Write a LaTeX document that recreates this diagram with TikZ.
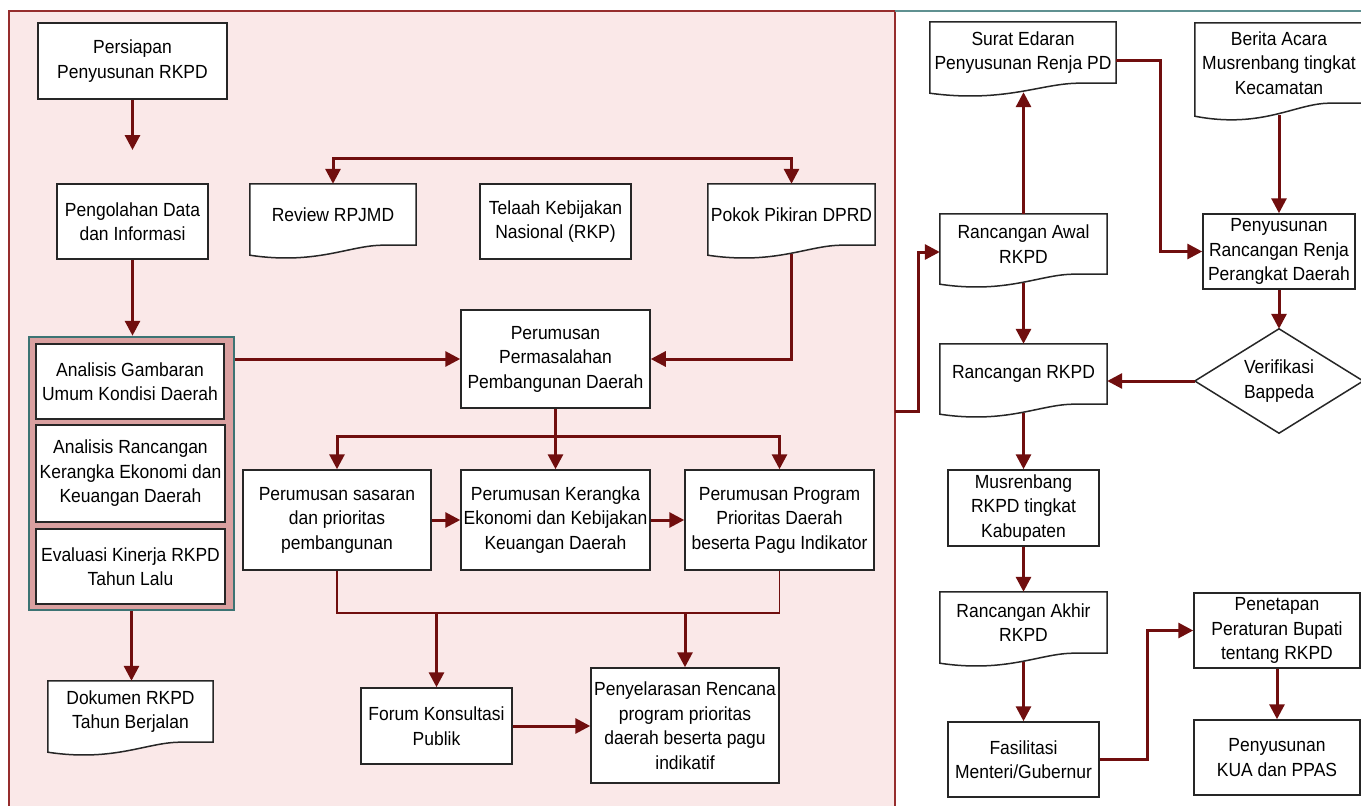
\documentclass[tikz,border=0pt]{standalone}
\usepackage{fontspec}
\setmainfont{Liberation Sans}[FakeStretch=0.92]
\usetikzlibrary{arrows.meta,calc}
\definecolor{arrred}{RGB}{112,14,14}
\definecolor{panelred}{RGB}{150,45,45}
\definecolor{panelfill}{RGB}{250,232,232}
\definecolor{grpfill}{RGB}{218,160,160}
\definecolor{grpteal}{RGB}{60,115,115}
\definecolor{topteal}{RGB}{95,145,145}
\pgfdeclarelayer{panel}
\pgfdeclarelayer{docs}
\pgfsetlayers{panel,docs,main}
\newcommand{\fsz}{\fontsize{19}{24.5}\selectfont}
\newcommand{\docwave}[2]{%
\begin{pgfonlayer}{docs}
\draw[docline] (#1.north west) -- (#1.north east) -- (#1.south east)
 -- ($(#1.south west)!0.8!(#1.south east)$)
 .. controls ($(#1.south west)!0.6!(#1.south east)$) and ($(#1.south west)!0.4!(#1.south east)+(0,{2*#2})$)
 .. ($(#1.south west)+(0,#2)$) -- cycle;
\end{pgfonlayer}}
\tikzset{
 box/.style={draw=black!85, line width=1.5pt, fill=white, align=center, inner sep=0pt, font=\fsz},
 doctext/.style={align=center, inner sep=0pt, font=\fsz},
 docline/.style={draw=black!85, line width=1.5pt, fill=white},
 sz/.style 2 args={minimum width=#1pt, minimum height=#2pt},
 arr/.style={draw=arrred, line width=3pt, -{Triangle[length=15pt,width=15pt]}},
 arrboth/.style={draw=arrred, line width=3pt, {Triangle[length=15pt,width=15pt]}-{Triangle[length=15pt,width=15pt]}},
 busline/.style={draw=arrred, line width=1.6pt},
}
\begin{document}
\begin{tikzpicture}[x=1pt,y=-1pt]
\useasboundingbox (0,0) rectangle (1361,806);
\begin{pgfonlayer}{panel}
\fill[white] (0,0) rectangle (1361,806);
\draw[panelred, line width=1.8pt, fill=panelfill] (9,11) rectangle (895,812);
\draw[topteal, line width=1.8pt] (895,11) -- (1365,11);
\end{pgfonlayer}

% left panel nodes
\node[box, sz={189}{76}] (prep) at (132.5,61) {Persiapan\\Penyusunan RKPD};
\coordinate (prepend) at (132.5,150);
\node[box, sz={151}{75}] (peng) at (132.5,221.5) {Pengolahan Data\\dan Informasi};
\node[draw=grpteal, line width=2.5pt, fill=grpfill, sz={205}{273}, inner sep=0pt] (grp) at (131.5,473.5) {};
\node[box, sz={188}{75}] (ag) at (130,381.5) {Analisis Gambaran\\Umum Kondisi Daerah};
\node[box, sz={189}{97}] (ar) at (130.5,473.5) {Analisis Rancangan\\Kerangka Ekonomi dan\\Keuangan Daerah};
\node[box, sz={189}{75}] (ev) at (130.5,566.5) {Evaluasi Kinerja RKPD\\Tahun Lalu};
\node[doctext, sz={165}{61}] (dok) at (130.5,711.5) {Dokumen RKPD\\Tahun Berjalan};
\node[doctext, sz={166}{61}] (rev) at (333,214.5) {Review RPJMD};
\node[box, sz={151}{75}] (tel) at (555.5,221.5) {Telaah Kebijakan\\Nasional (RKP)};
\node[doctext, sz={167}{61}] (pok) at (791.5,214.5) {Pokok Pikiran DPRD};
\node[box, sz={189}{98}] (perm) at (555.5,359) {Perumusan\\Permasalahan\\Pembangunan Daerah};
\node[box, sz={188}{100}] (sas) at (337,520) {Perumusan sasaran\\dan prioritas\\pembangunan};
\node[box, sz={189}{100}] (ker) at (555.5,520) {Perumusan Kerangka\\Ekonomi dan Kebijakan\\Keuangan Daerah};
\node[box, sz={189}{100}] (prog) at (779.5,520) {Perumusan Program\\Prioritas Daerah\\beserta Pagu Indikator};
\node[box, sz={151}{76}] (forum) at (436.5,726) {Forum Konsultasi\\Publik};
\node[box, sz={188}{115}] (peny) at (685,725.5) {Penyelarasan Rencana\\program prioritas\\daerah beserta pagu\\indikatif};

% right panel nodes
\node[doctext, sz={186}{61}] (surat) at (1023,52.5) {Surat Edaran\\Penyusunan Renja PD};
\node[doctext, sz={168}{80}] (berita) at (1279,63) {Berita Acara\\Musrenbang tingkat\\Kecamatan};
\node[doctext, sz={167}{60}] (awal) at (1023.5,244) {Rancangan Awal\\RKPD};
\node[box, sz={152}{75}] (pen) at (1279,251.5) {Penyusunan\\Rancangan Renja\\Perangkat Daerah};
\node[doctext, sz={168}{104}] (ver) at (1279,381) {Verifikasi\\Bappeda};
\node[doctext, sz={167}{60}] (rrk) at (1023.5,374) {Rancangan RKPD};
\node[box, sz={151}{76}] (mus) at (1023.5,508) {Musrenbang\\RKPD tingkat\\Kabupaten};
\node[doctext, sz={167}{61}] (akh) at (1023.5,622.5) {Rancangan Akhir\\RKPD};
\node[box, sz={151}{75}] (fas) at (1023.5,759.5) {Fasilitasi\\Menteri/Gubernur};
\node[box, sz={166}{75}] (pet) at (1277,630.5) {Penetapan\\Peraturan Bupati\\tentang RKPD};
\node[box, sz={166}{75}] (kua) at (1277,757.5) {Penyusunan\\KUA dan PPAS};

% document outlines
\docwave{dok}{10}
\docwave{rev}{10}
\docwave{pok}{10}
\docwave{surat}{10}
\docwave{berita}{13}
\docwave{awal}{10}
\docwave{rrk}{10}
\docwave{akh}{10}
\begin{pgfonlayer}{docs}
\draw[docline] (ver.west) -- (ver.north) -- (ver.east) -- (ver.south) -- cycle;
\end{pgfonlayer}

% left connectors
\draw[arr] (prep.south) -- (prepend);
\draw[arr] (peng.south) -- (peng.south |- grp.north);
\draw[arr] (grp.south) -- (grp.south |- dok.north);
\draw[arrboth] (rev.north) -- ++(0,-25) -| (pok.north);
\draw[arr] (perm.west -| grp.east) -- (perm.west);
\draw[arr] ($(pok.south)+(0,9)$) |- (perm.east);
\draw[arr] (perm.south) -- (ker.north);
\draw[arr] ($(perm.south)+(0,28)$) -| (sas.north);
\draw[arr] ($(perm.south)+(0,28)$) -| (prog.north);
\draw[arr] (sas.east) -- (ker.west);
\draw[arr] (ker.east) -- (prog.west);
\draw[busline] (sas.south) -- ++(0,42) coordinate (busb) -| (prog.south);
\draw[arr] (forum.north |- busb) -- (forum.north);
\draw[arr] (peny.north |- busb) -- (peny.north);
\draw[arr] (forum.east) -- (forum.east -| peny.west);

% right connectors
\coordinate (lp) at (895,411);
\draw[arr] (lp) -- ++(23,0) |- ([yshift=-8pt]awal.west);
\draw[arr] (awal.north) -- ($(awal.north |- surat.south)+(0,9)$);
\draw[arr] ([yshift=-8pt]surat.east) -- ++(44,0) |- (pen.west);
\draw[arr] ($(berita.south)+(0,12)$) -- (pen.north);
\draw[arr] (pen.south) -- (ver.north);
\draw[arr] (ver.west) -- (ver.west -| rrk.east);
\draw[arr] ($(awal.south)+(0,9)$) -- (rrk.north);
\draw[arr] ($(rrk.south)+(0,9)$) -- (mus.north);
\draw[arr] (mus.south) -- (akh.north);
\draw[arr] ($(akh.south)+(0,9)$) -- (fas.north);
\draw[arr] (fas.east) -- ++(48,0) |- (pet.west);
\draw[arr] (pet.south) -- (kua.north);
\end{tikzpicture}
\end{document}
